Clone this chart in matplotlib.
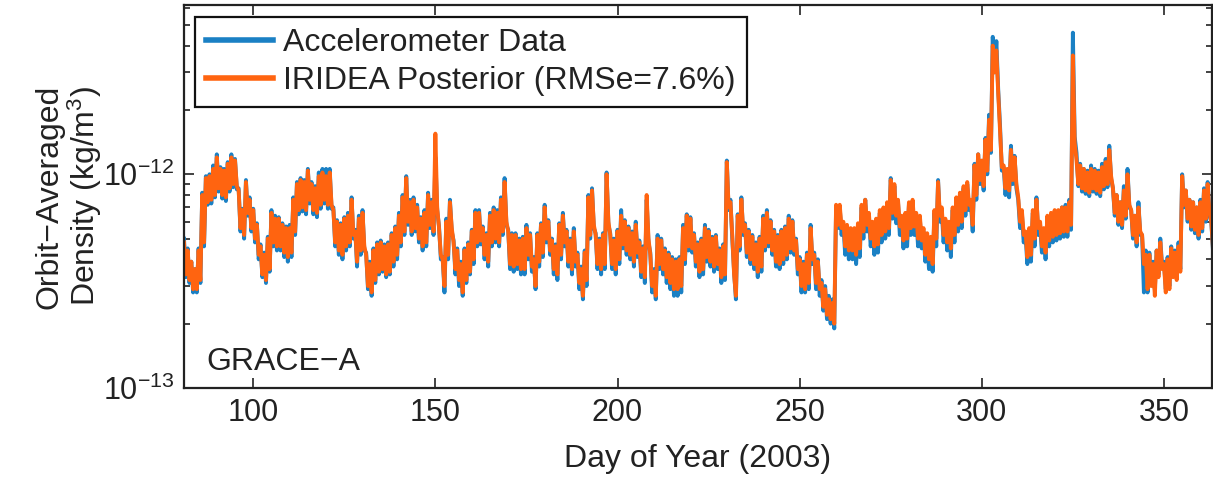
import numpy as np
import matplotlib
matplotlib.use("Agg")
import matplotlib.pyplot as plt
from matplotlib.lines import Line2D
from matplotlib.ticker import NullFormatter, FixedLocator

plt.rcParams["font.family"] = ["Liberation Sans", "DejaVu Sans"]
plt.rcParams["mathtext.fontset"] = "custom"
plt.rcParams["mathtext.rm"] = "Liberation Sans"
plt.rcParams["mathtext.it"] = "Liberation Sans:italic"
plt.rcParams["axes.unicode_minus"] = True

# GRACE-A orbit-averaged density, day of year 81..363 (2003).
# Each day holds the upper and lower swing of the orbit-to-orbit variation,
# in units of 1e-13 kg/m^3.
DAY_START = 81

ACC_HI = [
    5.0, 4.5, 3.9, 3.6, 4.5, 8.2, 9.8, 10.0, 11.0, 12.4,
    10.8, 10.6, 11.4, 12.4, 11.8, 8.6, 6.9, 9.4, 7.8, 6.9,
    5.9, 4.7, 4.3, 5.1, 6.8, 6.4, 6.3, 5.9, 5.7, 5.8,
    7.8, 9.2, 9.6, 9.4, 10.6, 9.2, 8.8, 10.2, 10.6, 10.6,
    10.6, 7.0, 6.1, 5.9, 6.3, 6.6, 7.8, 5.5, 6.4, 6.8,
    4.3, 3.9, 4.5, 4.8, 4.9, 4.7, 4.8, 5.3, 5.7, 6.6,
    8.0, 9.8, 7.6, 7.8, 7.2, 6.3, 6.8, 8.2, 7.6, 12.0,
    5.7, 4.1, 6.2, 7.6, 4.9, 4.5, 3.9, 4.5, 4.8, 5.5,
    6.8, 6.8, 5.7, 5.3, 6.6, 7.0, 6.8, 7.8, 9.6, 5.5,
    5.3, 5.3, 5.0, 5.1, 5.8, 5.3, 4.1, 5.3, 5.9, 7.2,
    6.1, 5.0, 4.7, 5.9, 6.6, 5.5, 5.0, 5.6, 4.3, 3.7,
    4.4, 8.0, 8.6, 5.3, 5.0, 5.3, 10.2, 5.3, 5.0, 5.5,
    6.8, 6.1, 5.7, 5.4, 6.0, 4.9, 4.6, 7.6, 4.3, 3.6,
    5.2, 5.0, 4.5, 4.3, 4.1, 4.0, 4.1, 5.8, 6.5, 6.3,
    5.3, 4.8, 5.0, 5.8, 5.5, 5.1, 5.2, 4.5, 4.7, 11.6,
    7.6, 3.5, 6.5, 7.8, 5.9, 5.5, 5.2, 4.8, 5.1, 6.4,
    6.8, 6.1, 5.5, 5.2, 5.5, 5.7, 6.4, 6.1, 5.0, 4.1,
    3.9, 4.3, 5.8, 4.3, 4.0, 3.2, 3.0, 2.7, 2.6, 7.0,
    7.0, 5.8, 5.6, 5.4, 5.4, 5.7, 7.0, 7.6, 6.4, 5.8,
    6.0, 6.6, 6.8, 7.2, 9.6, 8.8, 7.4, 6.2, 6.4, 7.2,
    7.4, 6.4, 6.2, 5.4, 5.1, 4.9, 6.6, 9.4, 6.8, 6.0,
    5.8, 6.8, 7.6, 8.0, 8.6, 9.0, 7.4, 11.2, 12.4, 11.4,
    14.8, 19.0, 44.0, 42.0, 17.0, 10.8, 10.4, 13.6, 12.2, 7.6,
    6.6, 5.2, 5.4, 6.6, 7.8, 5.8, 5.4, 6.2, 6.4, 6.6,
    6.6, 7.0, 7.2, 7.6, 46.0, 12.6, 11.2, 10.6, 10.4, 11.0,
    10.6, 10.4, 11.2, 11.8, 13.6, 8.6, 8.0, 7.4, 8.8, 10.6,
    6.8, 6.4, 7.4, 5.2, 4.4, 4.3, 3.9, 4.4, 5.0, 3.9,
    4.1, 4.6, 4.4, 4.8, 10.0, 8.4, 7.6, 7.4, 7.0, 7.6,
    8.6, 9.2, 6.0,
]

ACC_LO = [
    3.3, 3.1, 2.8, 2.8, 3.1, 4.6, 7.2, 7.3, 7.8, 8.3,
    7.7, 7.5, 8.3, 8.7, 8.5, 5.4, 5.0, 6.4, 5.4, 4.8,
    4.0, 3.3, 3.1, 3.5, 4.6, 4.4, 4.4, 4.1, 3.9, 4.1,
    5.2, 6.5, 6.7, 6.5, 7.3, 6.5, 6.3, 6.9, 7.3, 6.9,
    6.9, 4.6, 4.2, 4.0, 4.4, 4.6, 5.0, 3.7, 4.2, 4.4,
    2.9, 2.7, 3.1, 3.4, 3.5, 3.3, 3.4, 3.7, 4.0, 4.6,
    5.2, 5.8, 5.2, 5.4, 4.8, 4.4, 4.6, 5.6, 5.2, 6.8,
    4.0, 2.8, 4.0, 5.4, 3.4, 3.0, 2.7, 3.1, 3.4, 3.8,
    4.6, 4.7, 4.0, 3.7, 4.6, 4.8, 4.6, 5.2, 5.8, 3.6,
    3.5, 3.6, 3.4, 3.4, 4.0, 3.5, 2.9, 3.7, 4.1, 4.8,
    4.2, 3.4, 3.2, 4.0, 4.6, 3.7, 3.4, 3.7, 2.9, 2.6,
    3.0, 5.0, 5.6, 3.6, 3.4, 3.6, 5.8, 3.6, 3.4, 3.8,
    4.5, 4.2, 4.0, 3.7, 4.1, 3.3, 3.1, 4.8, 2.8, 2.6,
    3.6, 3.4, 3.1, 2.9, 2.7, 2.7, 2.8, 3.8, 4.4, 4.3,
    3.7, 3.3, 3.4, 3.9, 3.7, 3.5, 3.6, 3.1, 3.2, 6.8,
    5.0, 2.6, 4.4, 5.2, 4.1, 3.8, 3.6, 3.3, 3.5, 4.4,
    4.6, 4.2, 3.7, 3.6, 3.8, 4.0, 4.3, 4.2, 3.4, 2.8,
    2.8, 2.9, 3.8, 2.9, 2.7, 2.3, 2.1, 2.0, 1.9, 5.6,
    5.2, 4.2, 4.0, 4.0, 3.8, 4.1, 5.0, 5.4, 4.6, 4.2,
    4.3, 4.8, 5.0, 5.2, 6.2, 5.9, 5.2, 4.5, 4.6, 5.2,
    5.2, 4.6, 4.5, 3.9, 3.6, 3.5, 4.6, 6.0, 4.8, 4.4,
    4.1, 4.8, 5.4, 5.6, 6.4, 6.8, 5.4, 7.6, 9.0, 8.4,
    10.0, 12.6, 30.0, 25.0, 10.4, 8.0, 7.8, 9.0, 8.6, 5.6,
    4.8, 3.8, 3.9, 4.6, 5.2, 4.3, 4.0, 4.6, 4.8, 4.9,
    5.0, 5.1, 5.1, 5.5, 15.0, 8.8, 8.3, 8.1, 7.9, 8.3,
    8.1, 7.9, 8.5, 8.7, 9.5, 6.4, 5.8, 5.6, 6.2, 7.0,
    5.0, 4.6, 5.2, 2.8, 2.8, 3.1, 2.9, 3.4, 3.7, 2.9,
    3.0, 3.4, 3.3, 3.6, 7.0, 6.0, 5.5, 5.3, 5.0, 5.4,
    6.0, 6.4, 4.3,
]

POST_HI = [
    4.8, 4.4, 3.9, 3.6, 4.4, 8.0, 9.6, 9.8, 10.6, 12.0,
    10.6, 10.4, 11.2, 12.0, 11.6, 8.4, 6.8, 9.2, 7.6, 6.8,
    5.8, 4.6, 4.2, 5.0, 6.6, 6.2, 6.2, 5.8, 5.6, 5.6,
    7.6, 9.0, 9.4, 9.2, 10.4, 9.0, 8.6, 9.8, 10.2, 9.8,
    10.2, 6.8, 6.0, 5.8, 6.2, 6.4, 7.6, 5.4, 6.2, 6.6,
    4.2, 3.8, 4.4, 4.7, 4.8, 4.6, 4.7, 5.2, 5.6, 6.4,
    7.8, 9.6, 7.4, 7.6, 7.0, 6.2, 6.6, 8.0, 7.4, 15.5,
    5.6, 4.0, 6.0, 7.4, 4.8, 4.4, 3.8, 4.4, 4.7, 5.4,
    6.6, 6.6, 5.6, 5.2, 6.4, 6.8, 6.6, 7.6, 9.2, 5.4,
    5.2, 5.2, 4.9, 5.0, 5.6, 5.2, 4.0, 5.2, 5.8, 7.0,
    6.0, 4.9, 4.6, 5.8, 6.4, 5.4, 4.9, 5.4, 4.2, 3.6,
    4.3, 7.8, 8.4, 5.2, 4.9, 5.2, 10.0, 5.2, 4.9, 5.4,
    6.4, 6.0, 5.6, 5.3, 5.8, 4.8, 4.5, 8.0, 4.2, 3.5,
    5.0, 4.9, 4.4, 4.2, 4.0, 3.9, 4.0, 5.6, 6.4, 6.2,
    5.2, 4.7, 4.9, 5.6, 5.4, 5.0, 5.1, 4.4, 4.6, 11.4,
    7.4, 3.4, 6.4, 7.6, 5.8, 5.4, 5.1, 4.7, 5.0, 6.2,
    6.6, 6.0, 5.4, 5.1, 5.4, 5.6, 6.2, 6.0, 4.9, 4.0,
    3.8, 4.2, 5.6, 4.2, 3.9, 3.1, 2.9, 2.6, 2.5, 7.2,
    7.2, 6.0, 5.8, 5.6, 5.6, 5.9, 7.2, 7.6, 6.6, 6.0,
    6.2, 6.8, 7.0, 7.4, 9.4, 9.0, 7.6, 6.4, 6.6, 7.4,
    7.6, 6.6, 6.4, 5.6, 5.3, 5.1, 6.8, 9.2, 7.0, 6.2,
    6.0, 7.0, 7.8, 8.2, 8.8, 9.2, 7.6, 11.0, 12.4, 11.6,
    14.5, 18.0, 40.0, 38.0, 16.0, 11.0, 10.6, 13.0, 12.0, 7.8,
    6.8, 5.4, 5.6, 6.8, 7.6, 6.0, 5.6, 6.4, 6.6, 6.8,
    6.8, 7.0, 7.0, 7.4, 36.0, 11.6, 11.0, 10.6, 10.2, 10.6,
    10.4, 10.2, 10.8, 11.4, 13.0, 8.6, 8.0, 7.4, 8.4, 10.0,
    6.8, 6.4, 7.0, 5.2, 4.2, 4.2, 3.8, 4.4, 4.8, 3.8,
    4.0, 4.5, 4.3, 4.6, 9.8, 8.4, 7.6, 7.4, 7.0, 7.4,
    8.4, 9.0, 6.0,
]

POST_LO = [
    3.4, 3.2, 2.9, 2.9, 3.2, 4.8, 7.4, 7.6, 8.0, 8.6,
    8.0, 7.8, 8.6, 9.0, 8.8, 5.6, 5.2, 6.6, 5.6, 5.0,
    4.2, 3.4, 3.2, 3.6, 4.8, 4.6, 4.6, 4.3, 4.1, 4.3,
    5.4, 6.8, 7.0, 6.8, 7.6, 6.8, 6.6, 7.2, 7.6, 7.2,
    7.2, 4.8, 4.4, 4.2, 4.6, 4.8, 5.2, 3.9, 4.4, 4.6,
    3.0, 2.8, 3.2, 3.5, 3.6, 3.4, 3.5, 3.9, 4.2, 4.8,
    5.4, 6.0, 5.4, 5.6, 5.0, 4.6, 4.8, 5.8, 5.4, 7.0,
    4.2, 3.0, 4.2, 5.6, 3.6, 3.2, 2.8, 3.2, 3.5, 4.0,
    4.8, 4.9, 4.2, 3.9, 4.8, 5.0, 4.8, 5.4, 6.0, 3.8,
    3.7, 3.8, 3.6, 3.6, 4.2, 3.7, 3.0, 3.9, 4.3, 5.0,
    4.4, 3.6, 3.4, 4.2, 4.8, 3.9, 3.6, 3.9, 3.1, 2.7,
    3.2, 5.2, 5.8, 3.8, 3.6, 3.8, 6.0, 3.8, 3.6, 4.0,
    4.7, 4.4, 4.2, 3.9, 4.3, 3.5, 3.3, 5.0, 3.0, 2.7,
    3.8, 3.6, 3.3, 3.1, 2.9, 2.9, 3.0, 4.0, 4.6, 4.5,
    3.9, 3.5, 3.6, 4.1, 3.9, 3.7, 3.8, 3.3, 3.4, 7.0,
    5.2, 2.7, 4.6, 5.4, 4.3, 4.0, 3.8, 3.5, 3.7, 4.6,
    4.8, 4.4, 3.9, 3.8, 4.0, 4.2, 4.5, 4.4, 3.6, 3.0,
    2.9, 3.1, 4.0, 3.1, 2.9, 2.4, 2.2, 2.1, 2.0, 5.8,
    5.6, 4.6, 4.4, 4.4, 4.2, 4.5, 5.4, 5.8, 5.0, 4.6,
    4.7, 5.2, 5.4, 5.6, 6.6, 6.4, 5.7, 4.9, 5.0, 5.6,
    5.7, 5.0, 4.9, 4.2, 4.0, 3.8, 5.0, 6.4, 5.2, 4.8,
    4.5, 5.2, 5.8, 6.0, 6.8, 7.2, 5.8, 8.0, 9.4, 8.8,
    10.4, 13.0, 30.0, 24.0, 10.8, 8.6, 8.4, 9.4, 9.0, 6.0,
    5.2, 4.1, 4.2, 5.0, 5.6, 4.6, 4.3, 4.9, 5.1, 5.2,
    5.3, 5.4, 5.4, 5.8, 14.0, 9.0, 8.6, 8.4, 8.2, 8.6,
    8.4, 8.2, 8.8, 9.0, 9.8, 6.6, 6.0, 5.8, 6.4, 7.2,
    5.2, 4.8, 5.4, 3.8, 2.9, 3.0, 2.7, 3.3, 3.6, 2.8,
    2.9, 3.3, 3.2, 3.5, 7.2, 6.2, 5.7, 5.5, 5.2, 5.6,
    6.2, 6.6, 4.4,
]

ACC_LABEL = "Accelerometer Data"
POST_LABEL = "IRIDEA Posterior (RMSe=7.6%)"
SAT_NAME = "GRACE\u2212A"

Y_MAJOR = [1e-13, 1e-12]
Y_MINOR = [m * 1e-13 for m in range(2, 10)] + [m * 1e-12 for m in range(2, 7)]

BLUE = "#1A80C4"
ORANGE = "#FF6410"
INK = "#222222"
FS = 22


def swing_trace(hi, lo):
    """Alternate upper/lower orbit values, half a day apart."""
    days = DAY_START + np.arange(len(hi))
    t = np.column_stack([days, days + 0.5]).ravel()
    rho = np.column_stack([hi, lo]).ravel() * 1e-13
    return t, rho


fig = plt.figure(figsize=(12.13, 4.79), dpi=100)
ax = fig.add_axes([0.1517, 0.19, 0.8475, 0.7996])

t, rho = swing_trace(ACC_HI, ACC_LO)
ax.plot(t, rho, color=BLUE, lw=2.8)
t, rho = swing_trace(POST_HI, POST_LO)
ax.plot(t, rho, color=ORANGE, lw=2.8)

ax.set_yscale("log")
ax.set_xlim(81, 363.2)
ax.set_ylim(1e-13, 6.2e-12)
ax.set_xticks([100, 150, 200, 250, 300, 350])
ax.yaxis.set_major_locator(FixedLocator(Y_MAJOR))
ax.yaxis.set_minor_locator(FixedLocator(Y_MINOR))
ax.yaxis.set_minor_formatter(NullFormatter())

ax.tick_params(which="both", direction="in", top=True, right=True,
               labelsize=FS, width=1.2, colors=INK, labelcolor=INK)
ax.tick_params(which="major", length=7, pad=7)
ax.tick_params(which="minor", length=4)
for sp in ax.spines.values():
    sp.set_linewidth(1.6)
    sp.set_color(INK)

ax.set_xlabel("Day of Year (2003)", fontsize=FS + 1, labelpad=12, color=INK)
ax.set_ylabel("Orbit\u2212Averaged\nDensity (kg/m$^3$)", fontsize=FS + 1,
              labelpad=-1, color=INK, linespacing=1.05)

ax.text(0.022, 0.047, SAT_NAME, transform=ax.transAxes, fontsize=FS + 1,
        va="baseline", ha="left", color=INK)

handles = [Line2D([], [], color=BLUE, lw=4),
           Line2D([], [], color=ORANGE, lw=4)]
leg = ax.legend(handles, [ACC_LABEL, POST_LABEL], loc="upper left",
                bbox_to_anchor=(0.0107, 0.969), borderaxespad=0,
                fontsize=FS + 1, handlelength=2.1, handletextpad=0.3,
                labelspacing=0.25, borderpad=0.35, fancybox=False,
                framealpha=1, edgecolor="#111111")
leg.get_frame().set_linewidth(1.6)
for txt in leg.get_texts():
    txt.set_color(INK)

fig.savefig("out.png", dpi=100)
